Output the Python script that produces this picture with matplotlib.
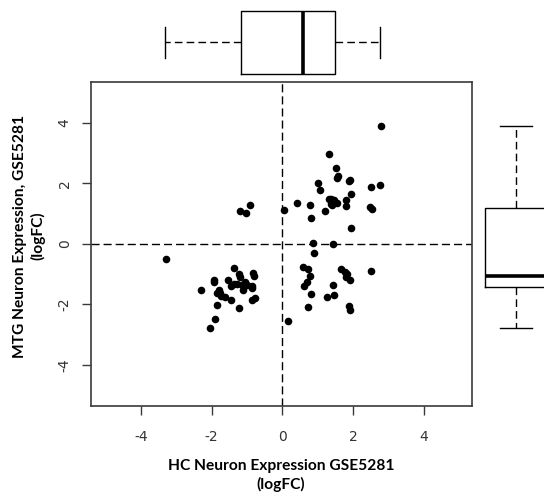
import matplotlib
matplotlib.use('Agg')
import matplotlib.pyplot as plt

# logFC values (HC on x, MTG on y)
hc_logfc = [
    2.79, 1.31, 1.51, 1.56, 1.54, 1.00, 1.07, 1.90, 1.88, 1.94, 2.50, 2.75,
    1.31, 1.38, 1.46, 1.54, 1.41, 1.37, 1.79, 1.79, 1.21, 0.77, 0.40, 0.81,
    0.04, 2.46, 2.54, 1.94,
    -0.91, -1.19, -1.03,
    0.85, 1.43, 0.88, 2.50, -3.29,
    0.57, 0.73, 0.78, 0.68, 0.61, 0.81, 0.73, 0.16, 1.65, 1.76, 1.82, 1.79,
    1.91, 1.44, 1.25, 1.46, 1.87, 1.91,
    -2.30, -1.93, -1.93, -1.38, -1.23, -1.20, -0.82, -0.80, -1.53, -1.46,
    -1.37, -1.28, -1.15, -1.06, -1.00, -0.87, -0.85, -1.12, -1.79, -1.77,
    -1.73, -1.84, -1.62, -1.46, -1.86, -1.23, -0.86, -0.79, -1.90, -2.05,
]
mtg_logfc = [
    3.89, 2.95, 2.49, 2.22, 2.16, 2.01, 1.76, 2.10, 2.06, 1.63, 1.88, 1.93,
    1.48, 1.46, 1.44, 1.33, 1.27, 1.31, 1.45, 1.25, 1.07, 1.29, 1.33, 0.86,
    1.11, 1.20, 1.14, 0.52,
    1.29, 1.07, 1.02,
    0.03, 0.00, -0.31, -0.89, -0.52,
    -0.77, -0.83, -1.07, -1.27, -1.41, -1.67, -2.10, -2.56, -0.85, -0.92,
    -1.00, -1.10, -1.20, -1.36, -1.75, -1.71, -2.06, -2.18,
    -1.53, -1.21, -1.28, -0.80, -0.99, -1.10, -0.97, -1.06, -1.20, -1.39,
    -1.32, -1.32, -1.35, -1.28, -1.35, -1.46, -1.41, -1.54, -1.52, -1.63,
    -1.72, -1.63, -1.76, -1.87, -2.01, -2.11, -1.85, -1.78, -2.48, -2.78,
]

# marginal box summaries (min, q1, median, q3, max) as drawn
hc_box = [-3.31, -1.18, 0.58, 1.49, 2.75]
mtg_box = [-2.80, -1.42, -1.08, 1.17, 3.90]

ticks = [-4, -2, 0, 2, 4]

W, H = 544, 498
EDGE = '#3a3a3a'


def box_stats(vals):
    return [{'whislo': vals[0], 'q1': vals[1], 'med': vals[2],
             'q3': vals[3], 'whishi': vals[4], 'fliers': []}]


def draw_box(ax, vals, orientation, width, capw):
    ax.bxp(box_stats(vals), positions=[0.5], widths=width, capwidths=capw,
           orientation=orientation, showfliers=False,
           boxprops=dict(color='black', linewidth=1.0),
           medianprops=dict(color='black', linewidth=2.6),
           whiskerprops=dict(color='black', linewidth=1.0, linestyle=(0, (5.5, 3.0))),
           capprops=dict(color='black', linewidth=1.0))
    ax.set_axis_off()


fig = plt.figure(figsize=(W / 100, H / 100), dpi=100)

# main scatter panel
ax = fig.add_axes([90.5 / W, 1 - 406 / H, (472 - 90.5) / W, (406 - 82) / H])
ax.scatter(hc_logfc, mtg_logfc, s=30, color='black', zorder=3, linewidths=0)
ax.axhline(0, color='black', lw=1.0, dashes=(5.8, 2.9), zorder=2)
ax.axvline(0, color='black', lw=1.0, dashes=(5.8, 2.9), zorder=2)
ax.set_xlim(-5.42, 5.35)
ax.set_ylim(-5.36, 5.34)
ax.set_xticks(ticks)
ax.set_yticks(ticks)
ax.set_xticklabels([str(t) for t in ticks])
ax.set_yticklabels([str(t) for t in ticks], rotation=90, va='center')
ax.tick_params(axis='both', length=6.5, width=1.0, color=EDGE,
               labelsize=10, labelcolor='#333333')
ax.tick_params(axis='x', pad=11)
ax.tick_params(axis='y', pad=7)
for sp in ax.spines.values():
    sp.set_color(EDGE)
    sp.set_linewidth(1.2)

# top marginal box (HC)
ax_top = fig.add_axes([90.5 / W, 1 - 80 / H, (472 - 90.5) / W, 75 / H], sharex=ax)
ax_top.set_ylim(0, 1)
draw_box(ax_top, hc_box, 'horizontal', 0.835, 0.41)

# right marginal box (MTG), runs off the figure edge like the original
ax_right = fig.add_axes([478 / W, 1 - 406 / H, 76 / W, (406 - 82) / H], sharey=ax)
ax_right.set_xlim(0, 1)
draw_box(ax_right, mtg_box, 'vertical', 0.824, 0.434)

fig.text(281 / W, 1 - 475.5 / H, 'HC Neuron Expression GSE5281\n(logFC)',
         ha='center', va='center', fontsize=11.2, fontweight='bold',
         family=['Lato', 'DejaVu Sans'], linespacing=1.3)
fig.text(29 / W, 1 - 236 / H, 'MTG Neuron Expression, GSE5281\n(logFC)',
         ha='center', va='center', rotation=90, fontsize=11.2, fontweight='bold',
         family=['Lato', 'DejaVu Sans'], linespacing=1.3)

fig.savefig('out.png', dpi=100)
